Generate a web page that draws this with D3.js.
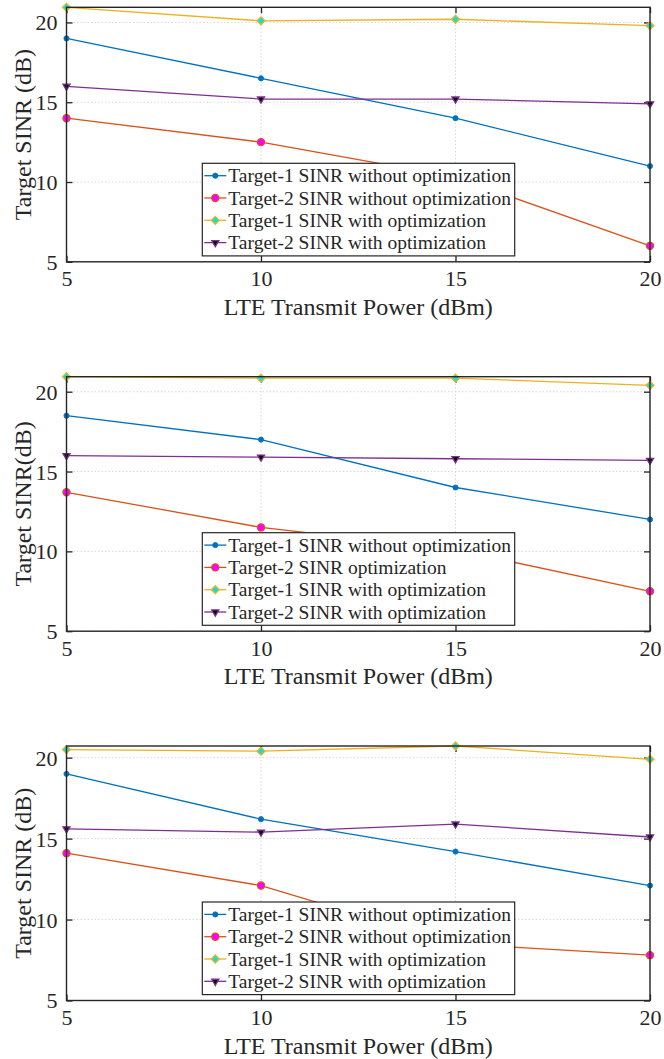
<!DOCTYPE html>
<html>
<head>
<meta charset="utf-8">
<script src="https://cdn.jsdelivr.net/npm/d3@7"></script>
<style>
  body { margin: 0; background: #fff; }
  text { font-family: "Liberation Serif", "Times New Roman", serif; fill: #262626; }
</style>
</head>
<body>
<script>
// x values (LTE transmit power, dBm)
var powers = [5, 10, 15, 20];
var xTicks = [5, 10, 15, 20];
var yTicks = [5, 10, 15, 20];

// panel 1
var p1T1Without = [19.0, 16.5, 14.0, 11.0];
var p1T2Without = [14.0, 12.5, 10.3, 6.0];
var p1T1With    = [20.95, 20.1, 20.2, 19.8];
var p1T2With    = [16.0, 15.2, 15.2, 14.9];
var p1Names = ["Target-1 SINR without optimization", "Target-2 SINR without optimization",
               "Target-1 SINR with optimization", "Target-2 SINR with optimization"];

// panel 2
var p2T1Without = [18.5, 17.0, 14.0, 12.0];
var p2T2Without = [13.7, 11.5, 10.1, 7.5];
var p2T1With    = [20.94, 20.85, 20.85, 20.4];
var p2T2With    = [16.0, 15.9, 15.8, 15.7];
var p2Names = ["Target-1 SINR without optimization", "Target-2 SINR optimization",
               "Target-1 SINR with optimization", "Target-2 SINR with optimization"];

// panel 3
var p3T1Without = [19.0, 16.2, 14.2, 12.1];
var p3T2Without = [14.1, 12.1, 8.5, 7.8];
var p3T1With    = [20.5, 20.4, 20.72, 19.9];
var p3T2With    = [15.6, 15.4, 15.9, 15.1];
var p3Names = p1Names;

var yLabels = ["Target SINR (dB)", "Target SINR(dB)", "Target SINR (dB)"];
var xLabel = "LTE Transmit Power (dBm)";

// line + marker styles, in series order
var styles = [
  {line: "#0072BD", marker: "dot",  fill: "#0072BD", edge: "#0072BD"},
  {line: "#D95319", marker: "circle", fill: "#FF00FF", edge: "#D95319"},
  {line: "#EDB120", marker: "diamond", fill: "#00E5E5", edge: "#EDB120"},
  {line: "#7E2F8E", marker: "tri", fill: "#000000", edge: "#7E2F8E"}
];

var panels = [
  {top: 7.3,   series: [p1T1Without, p1T2Without, p1T1With, p1T2With], names: p1Names, ylab: yLabels[0]},
  {top: 376.7, series: [p2T1Without, p2T2Without, p2T1With, p2T2With], names: p2Names, ylab: yLabels[1]},
  {top: 746,   series: [p3T1Without, p3T2Without, p3T1With, p3T2With], names: p3Names, ylab: yLabels[2]}
];

var W = 664, H = 1059;
var left = 66.5, right = 650, plotH = 254.5;

var svg = d3.select("body").append("svg").attr("width", W).attr("height", H);

function drawMarker(g, kind, st, cx, cy) {
  if (kind == "dot") {
    g.append("circle").attr("cx", cx).attr("cy", cy).attr("r", 2.6)
      .attr("fill", st.fill).attr("stroke", st.edge).attr("stroke-width", 0.8);
  } else if (kind == "circle") {
    g.append("circle").attr("cx", cx).attr("cy", cy).attr("r", 3.6)
      .attr("fill", st.fill).attr("stroke", st.edge).attr("stroke-width", 1.2);
  } else if (kind == "diamond") {
    g.append("path").attr("d", d3.symbol(d3.symbolDiamond2, 40)())
      .attr("transform", "translate(" + cx + "," + cy + ")")
      .attr("fill", st.fill).attr("stroke", st.edge).attr("stroke-width", 1.3);
  } else {
    g.append("path").attr("d", d3.symbol(d3.symbolTriangle2, 36)())
      .attr("transform", "translate(" + cx + "," + cy + ") rotate(180)")
      .attr("fill", st.fill).attr("stroke", st.edge).attr("stroke-width", 1.3);
  }
}

panels.forEach(function(p) {
  var bottom = p.top + plotH;
  var ymax = d3.max(p.series, function(s){ return d3.max(s); });
  var x = d3.scaleLinear().domain([5, 20]).range([left, right]);
  var y = d3.scaleLinear().domain([5, ymax]).range([bottom, p.top]);
  var g = svg.append("g");

  // grid (dotted)
  g.selectAll(".gx").data(xTicks).enter().append("line")
    .attr("x1", function(d){ return x(d); }).attr("x2", function(d){ return x(d); })
    .attr("y1", p.top).attr("y2", bottom)
    .attr("stroke", "#d8d8d8").attr("stroke-width", 1).attr("stroke-dasharray", "1.5,2");
  g.selectAll(".gy").data(yTicks).enter().append("line")
    .attr("x1", left).attr("x2", right)
    .attr("y1", function(d){ return y(d); }).attr("y2", function(d){ return y(d); })
    .attr("stroke", "#d8d8d8").attr("stroke-width", 1).attr("stroke-dasharray", "1.5,2");

  // axes with inward ticks on all sides
  var axB = g.append("g").attr("transform", "translate(0," + bottom + ")")
    .call(d3.axisBottom(x).tickValues(xTicks).tickSizeInner(-6).tickSizeOuter(0).tickPadding(10));
  var axL = g.append("g").attr("transform", "translate(" + left + ",0)")
    .call(d3.axisLeft(y).tickValues(yTicks).tickSizeInner(-6).tickSizeOuter(0).tickPadding(9));
  var axT = g.append("g").attr("transform", "translate(0," + p.top + ")")
    .call(d3.axisTop(x).tickValues(xTicks).tickSizeInner(-6).tickSizeOuter(0).tickFormat(""));
  var axR = g.append("g").attr("transform", "translate(" + right + ",0)")
    .call(d3.axisRight(y).tickValues(yTicks).tickSizeInner(-6).tickSizeOuter(0).tickFormat(""));
  [axB, axL, axT, axR].forEach(function(a) {
    a.attr("font-family", "Liberation Serif").attr("font-size", 22);
    a.select(".domain").remove();
    a.selectAll("line").attr("stroke", "#262626").attr("stroke-width", 1.3);
    a.selectAll("text").style("font-family", "'Liberation Serif', serif").style("font-size", "22px").attr("fill", "#262626");
  });
  axB.selectAll("text").attr("dy", "0.71em").attr("y", 9);
  axL.selectAll("text").attr("dy", "0.34em");

  // lines + markers
  var line = d3.line().x(function(d, i){ return x(powers[i]); }).y(function(d){ return y(d); });
  p.series.forEach(function(s, k) {
    var st = styles[k];
    g.append("path").attr("d", line(s)).attr("fill", "none")
      .attr("stroke", st.line).attr("stroke-width", 1.3);
  });
  p.series.forEach(function(s, k) {
    var st = styles[k];
    s.forEach(function(v, i) { drawMarker(g, st.marker, st, x(powers[i]), y(v)); });
  });

  // box
  g.append("rect").attr("x", left).attr("y", p.top).attr("width", right - left).attr("height", bottom - p.top)
    .attr("fill", "none").attr("stroke", "#262626").attr("stroke-width", 1.4);

  // axis labels
  g.append("text").attr("x", (left + right) / 2).attr("y", bottom + 53)
    .attr("text-anchor", "middle").style("font-size", "24px").text(xLabel);
  g.append("text").attr("transform", "translate(31," + (p.top + bottom) / 2 + ") rotate(-90)")
    .attr("text-anchor", "middle").style("font-size", "24px").text(p.ylab);

  // legend
  var lx = 202.3, ly = p.top + 156, lw = 312.4, lh = 92.6;
  var leg = g.append("g");
  leg.append("rect").attr("x", lx).attr("y", ly).attr("width", lw).attr("height", lh)
    .attr("fill", "#fff").attr("stroke", "#262626").attr("stroke-width", 1.2);
  p.names.forEach(function(n, k) {
    var st = styles[k];
    var cy = ly + 12.4 + k * 22.3;
    leg.append("line").attr("x1", lx + 2).attr("x2", lx + 24).attr("y1", cy).attr("y2", cy)
      .attr("stroke", st.line).attr("stroke-width", 1.3);
    drawMarker(leg, st.marker, st, lx + 13, cy);
    leg.append("text").attr("x", lx + 26).attr("y", cy).attr("dy", "0.34em")
      .style("font-size", "19.5px").text(n);
  });
});
</script>
</body>
</html>
